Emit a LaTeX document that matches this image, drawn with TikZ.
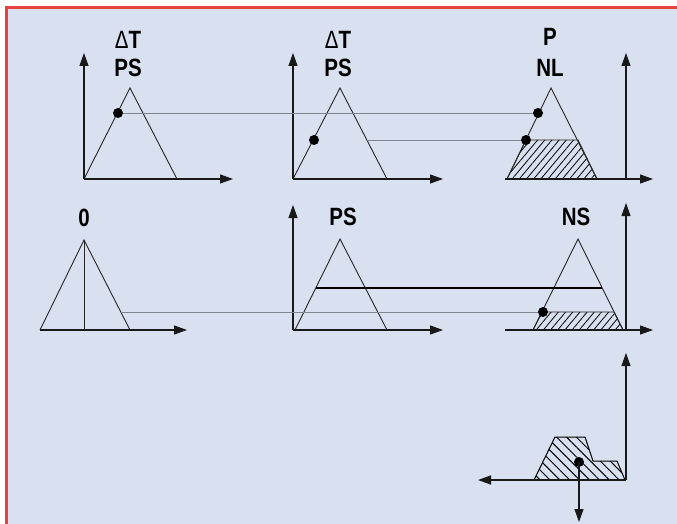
\documentclass[tikz,border=0pt]{standalone}
\usepackage{fontspec}
\setmainfont{Liberation Sans}
\usetikzlibrary{arrows.meta,patterns.meta}
\definecolor{bgc}{HTML}{D9E0EF}
\definecolor{redc}{HTML}{E8413F}
\definecolor{greyc}{HTML}{7F858F}
\begin{document}
\begin{tikzpicture}[x=1pt,y=-1pt,
  axis/.style={draw=black!90,line width=1.1pt,-{Triangle[length=13pt,width=9pt]}},
  tri/.style={draw=black!85,line width=0.9pt,line join=miter},
  conn/.style={draw=greyc,line width=0.9pt},
  thickconn/.style={draw=black,line width=1.8pt},
  hatchA/.style={pattern={Lines[angle=50,distance=5.5pt,line width=0.8pt]},draw=black!85,line width=0.9pt},
  hatchB/.style={pattern={Lines[angle=-45,distance=7pt,line width=1pt]},draw=black,line width=1pt},
  pt/.style={fill=black,circle,inner sep=0pt,minimum size=10pt},
  lab/.style={font=\fontsize{25}{27}\selectfont\bfseries,xscale=0.82,inner sep=0pt}]
\useasboundingbox (0,0) rectangle (677,524);
\fill[white] (0,0) rectangle (677,524);
\fill[bgc] (6,8) rectangle (677,524);
\draw[redc,line width=3pt] (6,524) -- (6,8) -- (677,8);

% ---------- panel 1
\coordinate (o1) at (84,179);
\coordinate (y1) at (84,53);
\coordinate (x1) at (233,179);
\coordinate (a1) at (130,88);
\coordinate (b1) at (177,179);
\draw[tri] (o1) -- (a1) -- (b1);
\draw[axis] (o1) -- (y1);
\draw[axis] (o1) -- (x1);
\node[lab] (t1a) at (128,40) {\textmd{Δ}T};
\node[lab] (t1b) at (128,68) {PS};

% ---------- panel 2
\coordinate (o2) at (293,179);
\coordinate (y2) at (293,53);
\coordinate (x2) at (443,179);
\coordinate (a2) at (340,88);
\coordinate (b2) at (387,179);
\coordinate (r2) at (367,140);
\draw[tri] (o2) -- (a2) -- (b2);
\draw[axis] (o2) -- (y2);
\draw[axis] (o2) -- (x2);
\node[lab] (t2a) at (338,40) {\textmd{Δ}T};
\node[lab] (t2b) at (338,68) {PS};

% ---------- panel 3
\coordinate (o3) at (626,179);
\coordinate (y3) at (626,53);
\coordinate (xs3) at (505,179);
\coordinate (x3) at (653,179);
\coordinate (l3) at (507,179);
\coordinate (a3) at (551,88);
\coordinate (b3) at (597,179);
\coordinate (h3l) at (526,140);
\coordinate (h3r) at (578,140);
\draw[hatchA] (l3) -- (h3l) -- (h3r) -- (b3) -- cycle;
\draw[tri] (l3) -- (a3) -- (b3);
\draw[axis] (o3) -- (y3);
\draw[axis] (xs3) -- (x3);
\node[lab] (t3a) at (550,37) {P};
\node[lab] (t3b) at (550,68) {NL};

% dots & connectors row 1
\node[pt] (d1) at (118,113) {};
\node[pt] (d2) at (314,140) {};
\node[pt] (d3) at (538,113) {};
\node[pt] (d4) at (526,140) {};
\draw[conn] (d1) -- (d3);
\draw[conn] (r2) -- (d4);

% ---------- panel 4
\coordinate (l4) at (40,330);
\coordinate (a4) at (84,240);
\coordinate (b4) at (130,330);
\coordinate (m4) at (84,330);
\coordinate (x4) at (187,330);
\coordinate (r4) at (121,312);
\draw[tri] (l4) -- (a4) -- (b4);
\draw[tri] (a4) -- (m4);
\draw[axis] (l4) -- (x4);
\node[lab] (t4) at (84,218) {0};

% ---------- panel 5
\coordinate (o5) at (293,330);
\coordinate (y5) at (293,205);
\coordinate (x5) at (443,330);
\coordinate (l5) at (295,330);
\coordinate (a5) at (340,239);
\coordinate (b5) at (387,330);
\coordinate (k5) at (316,288);
\draw[tri] (l5) -- (a5) -- (b5);
\draw[axis] (o5) -- (y5);
\draw[axis] (o5) -- (x5);
\node[lab] (t5) at (343,217) {PS};

% ---------- panel 6
\coordinate (o6) at (626,330);
\coordinate (y6) at (626,203);
\coordinate (xs6) at (505,330);
\coordinate (x6) at (653,330);
\coordinate (l6) at (533,330);
\coordinate (a6) at (578,239);
\coordinate (b6) at (623,330);
\coordinate (h6l) at (542,312);
\coordinate (h6r) at (614,312);
\coordinate (k6) at (602,288);
\draw[hatchA] (l6) -- (h6l) -- (h6r) -- (b6) -- cycle;
\draw[tri] (l6) -- (a6) -- (b6);
\draw[axis] (o6) -- (y6);
\draw[axis] (xs6) -- (x6);
\node[lab] (t6) at (576,217) {NS};

% connectors row 2
\node[pt] (d6) at (543,312) {};
\draw[conn] (r4) -- (d6);
\draw[thickconn] (k5) -- (k6);

% ---------- panel 7
\coordinate (o7) at (626,480);
\coordinate (y7) at (626,353);
\coordinate (x7) at (478,480);
\coordinate (c7) at (579,480);
\coordinate (z7) at (579,522);
\draw[hatchB] (534,480) -- (555,437) -- (585,437) -- (593,461) -- (617,461) -- (625,480) -- cycle;
\draw[axis] (o7) -- (y7);
\draw[axis,line width=1.6pt] (o7) -- (x7);
\node[pt] (d7) at (579,462) {};
\draw[axis] (d7.center) -- (z7);
\end{tikzpicture}
\end{document}
